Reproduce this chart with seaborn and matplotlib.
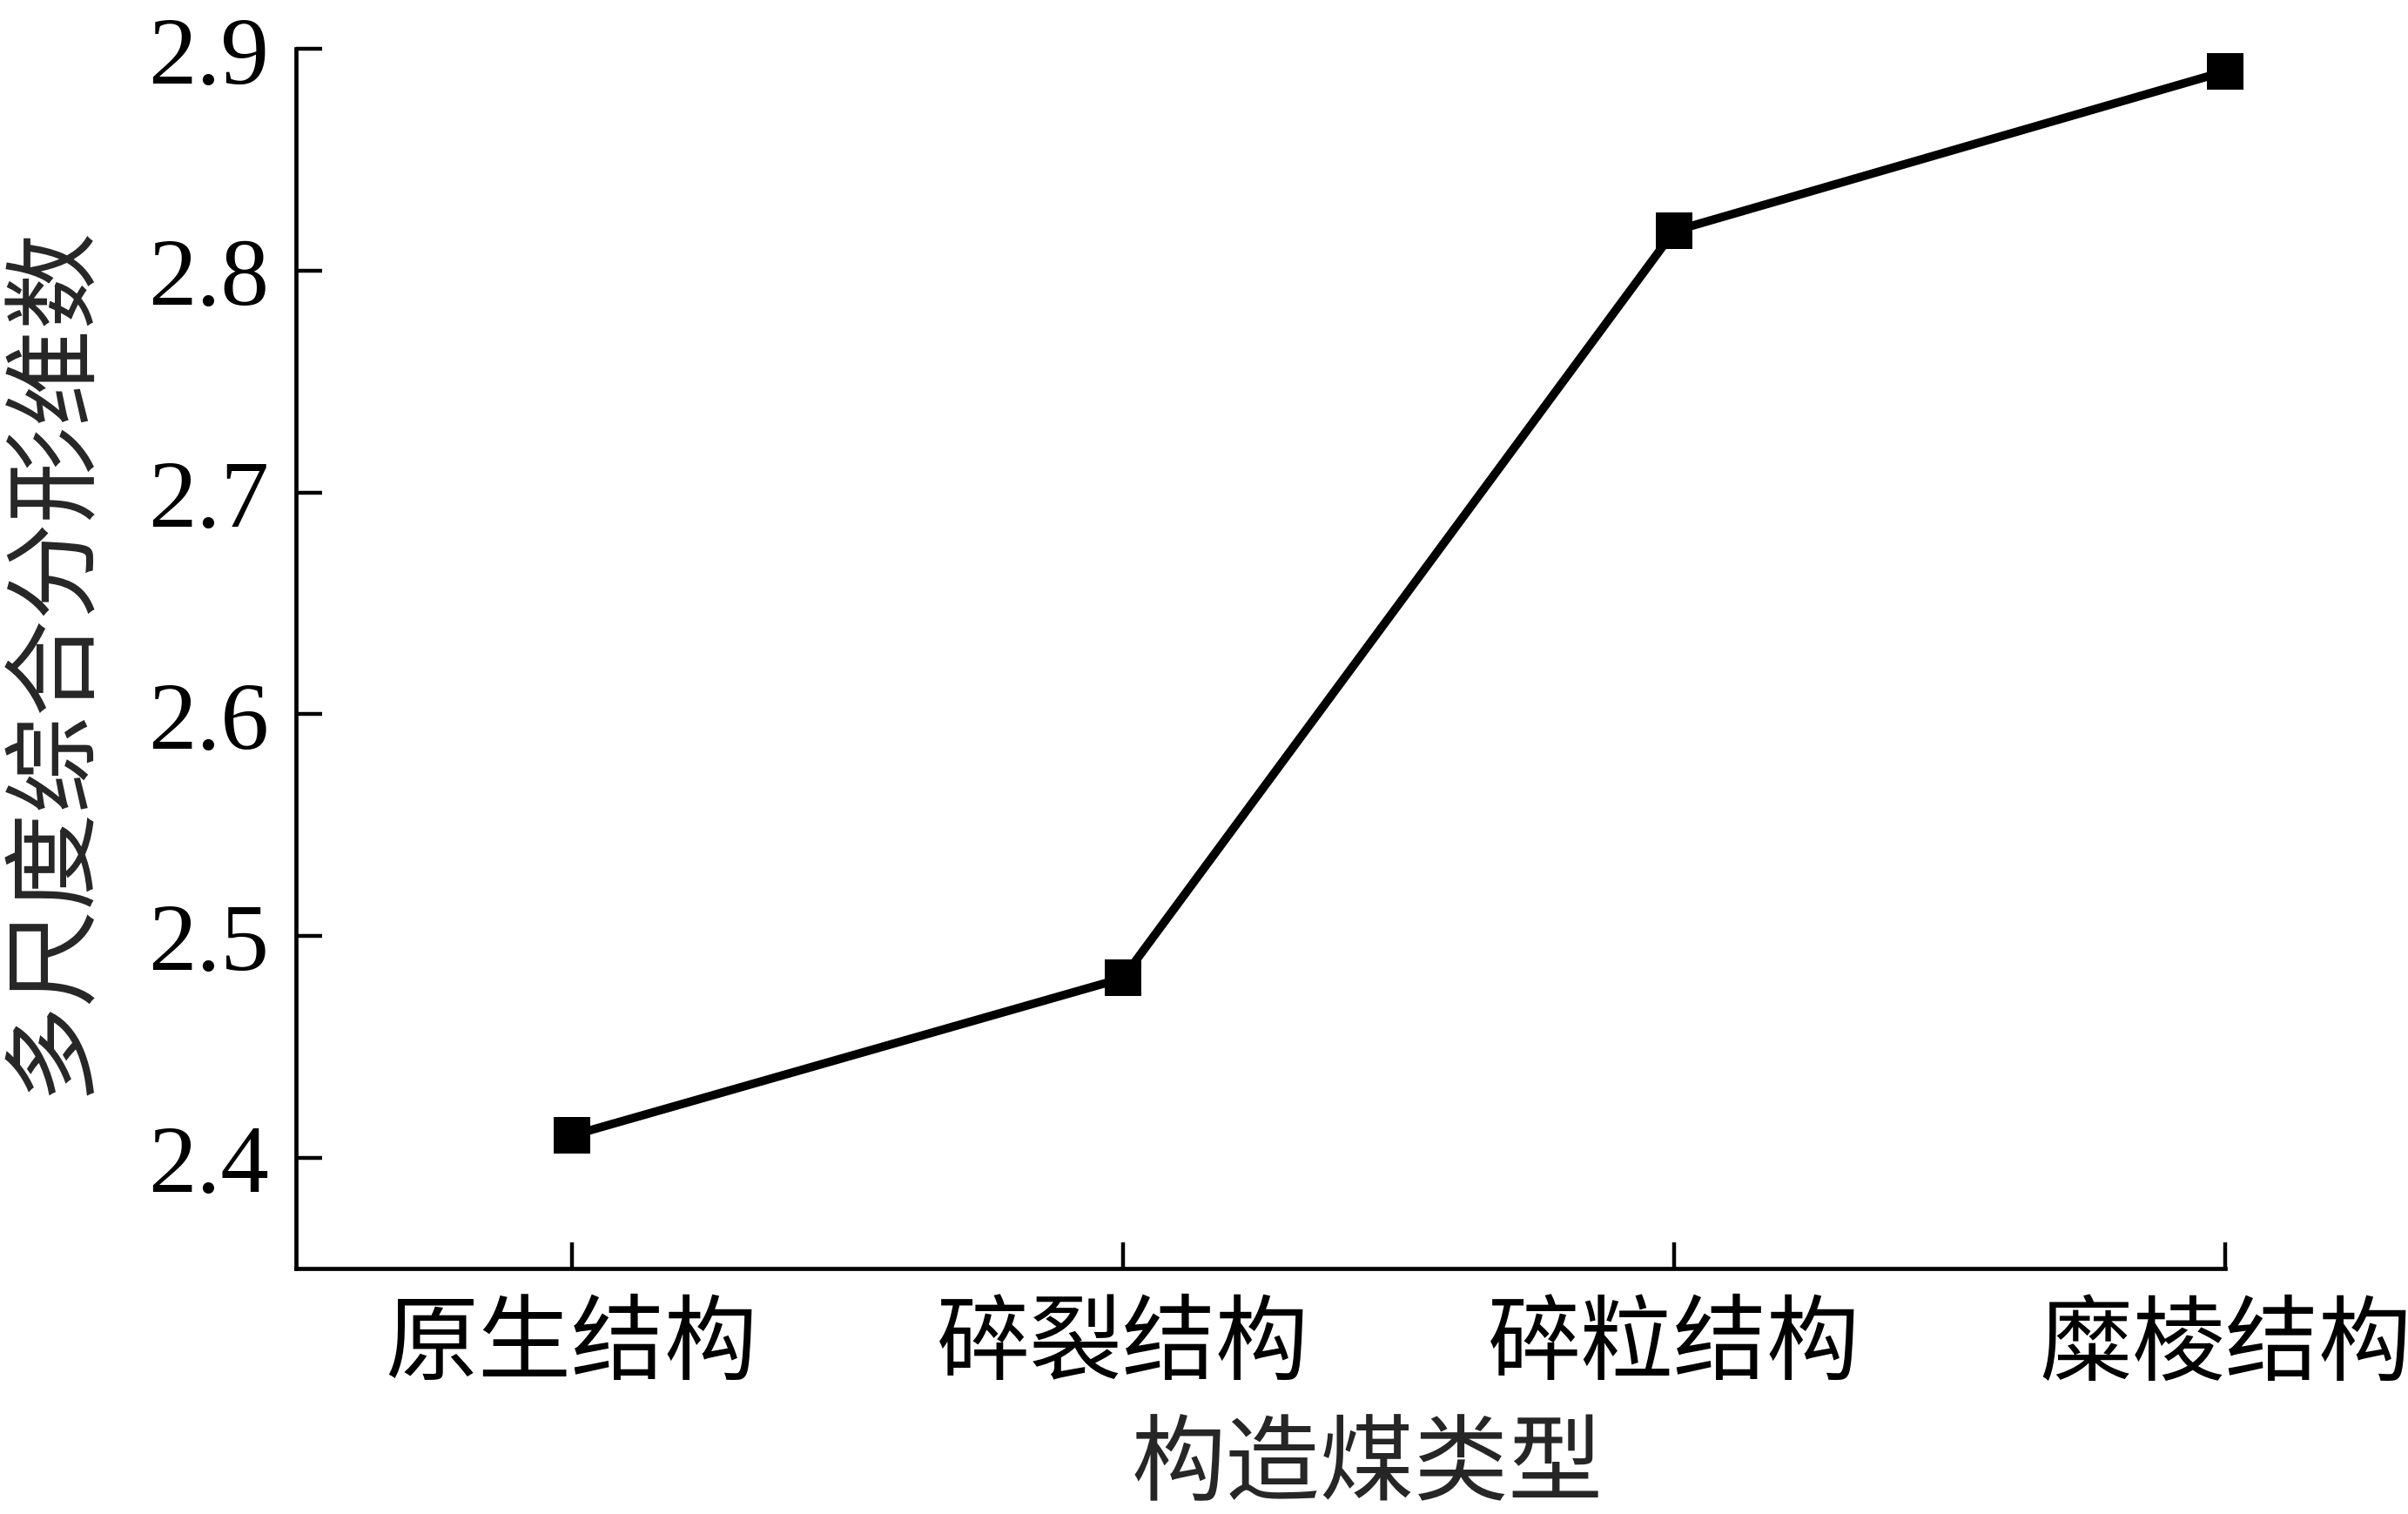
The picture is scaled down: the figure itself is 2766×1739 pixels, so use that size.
import matplotlib
matplotlib.use("Agg")
import matplotlib.pyplot as plt
import seaborn as sns

# coal structure types and their multi-scale fractal dimension
coal_types = ["原生结构", "碎裂结构", "碎粒结构", "糜棱结构"]
fractal_dim = [2.410, 2.481, 2.818, 2.890]
y_ticks = [2.4, 2.5, 2.6, 2.7, 2.8, 2.9]

sns.set_style("ticks")
plt.rcParams["font.family"] = ["Liberation Serif", "Noto Sans CJK SC"]

fig = plt.figure(figsize=(27.66, 17.40), dpi=100)
ax = fig.add_axes([0.1229, 0.162, 0.8013, 0.805])

sns.lineplot(x=coal_types, y=fractal_dim, ax=ax, color="black", linewidth=7,
             marker="s", markersize=30, markeredgewidth=0, sort=False,
             clip_on=False)

ax.set_xlim(-0.5, 3.0)
ax.set_ylim(2.35, 2.9)
ax.set_yticks(y_ticks)
ax.set_yticklabels([f"{v:.1f}" for v in y_ticks])

for side in ["top", "right"]:
    ax.spines[side].set_visible(False)
for side in ["left", "bottom"]:
    ax.spines[side].set_linewidth(3.4)
    ax.spines[side].set_color("black")

ax.tick_params(axis="both", direction="in", length=21.6, width=3.2,
               colors="black")
ax.tick_params(axis="y", labelsize=80, pad=22)
ax.tick_params(axis="x", labelsize=77, pad=30)

ax.set_xlabel("构造煤类型", fontsize=78, labelpad=28)
ax.xaxis.label.set_x(0.555)
ax.set_ylabel("多尺度综合分形维数", fontsize=80, labelpad=40)

fig.savefig("out.png", dpi=100)
